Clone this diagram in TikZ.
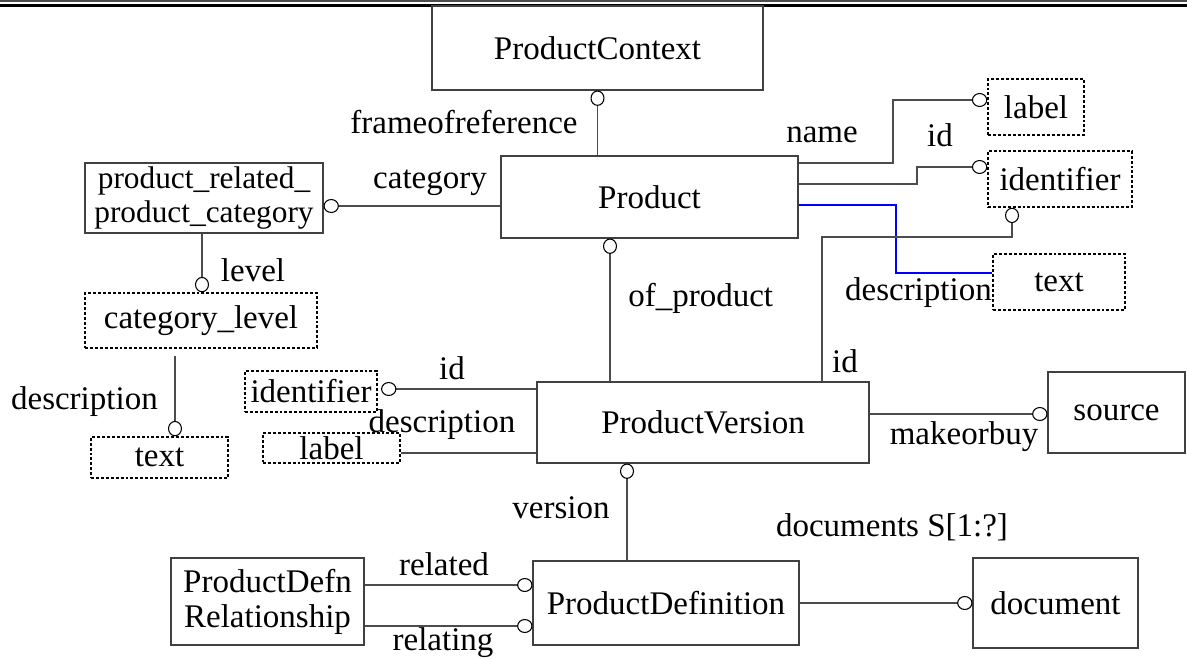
\documentclass[tikz,border=0pt]{standalone}
\usepackage{fontspec}
\setmainfont{Liberation Serif}
\usetikzlibrary{arrows.meta}
\newcommand\bx[7]{\node[#6,minimum width={(#4-#2)*0.75pt},minimum height={(#5-#3)*0.75pt}] (#1) at ({(#2+#4)/2},{(#3+#5)/2}) {#7};}
\tikzset{
  every node/.style={font=\fontsize{24.75pt}{26pt}\selectfont, inner sep=0pt},
  solidbox/.style={draw=black!75, line width=0.8pt},
  dashbox/.style={draw=black, line width=1.1pt, dash pattern=on 2.2pt off 1.5pt},
  conn/.style={draw=black!70, line width=0.8pt},
  blueconn/.style={draw=blue, line width=1.1pt},
  endc/.style={-{Circle[open,length=11.5pt,width=10.5pt,black]}},
  startc/.style={{Circle[open,length=11.5pt,width=10.5pt,black]}-},
  lbl/.style={}
}
\begin{document}
\begin{tikzpicture}[x=0.75pt,y=-0.75pt]
\useasboundingbox (0,0) rectangle (1187,659);
% top rules
\draw[black!70, line width=0.9pt] (0,1) -- (1187,1);
\draw[black, line width=2pt] (0,5.5) -- (1187,5.5);
% boxes
\bx{pc}{432}{6}{763}{90}{solidbox}{ProductContext}
\bx{prod}{501}{156}{798}{238}{solidbox}{Product}
\bx{lblR}{988}{79}{1084}{135}{dashbox}{label}
\bx{idR}{988}{151}{1132}{207}{dashbox}{identifier}
\bx{txtR}{993}{254}{1125}{310}{dashbox}{text}
\bx{prpc}{85}{163}{323}{233}{solidbox,align=center,font=\fontsize{23.5pt}{25.5pt}\selectfont}{product\_related\_\\product\_category}
\bx{cl}{85}{293}{317}{348}{dashbox}{category\_level}
\bx{txtL}{91}{437}{228}{478}{dashbox}{text}
\bx{idL}{245}{371}{377}{412}{dashbox}{identifier}
\bx{lblL}{263}{433}{400}{463}{dashbox}{label}
\bx{pv}{537}{382}{869}{463}{solidbox}{ProductVersion}
\bx{src}{1048}{372}{1185}{453}{solidbox}{source}
\bx{pd}{533}{561}{799}{645}{solidbox}{ProductDefinition}
\bx{doc}{973}{558}{1138}{648}{solidbox}{document}
\bx{pdr}{171}{558}{364}{645}{solidbox,align=center,font=\fontsize{24.75pt}{26.25pt}\selectfont}{ProductDefn\\Relationship}
% labels
\node[lbl] (tFrame) at (464,122) {frameofreference};
\node[lbl] (tCat) at (430,183) {category};
\node[lbl] (tName) at (822,135) {name};
\node[lbl] (tIdR) at (940,135) {id};
\node[lbl,anchor=east] (tDescR) at (992,293) {description};
\node[lbl,anchor=west] (tOf) at (628,298) {of\_product};
\node[lbl] (tLevel) at (253,270) {level};
\node[lbl,anchor=east] (tDescL) at (158,402) {description};
\node[lbl] (tIdL) at (452,368) {id};
\node[lbl] (tDescM) at (442,425) {description};
\node[lbl] (tIdPV) at (845,361) {id};
\node[lbl] (tMake) at (964,437) {makeorbuy};
\node[lbl] (tVer) at (561,508) {version};
\node[lbl] (tDocs) at (892,527) {documents S[1:?]};
\node[lbl] (tRelated) at (444,564) {related};
\node[lbl] (tRelating) at (443,643) {relating};
% connectors
\draw[conn,startc] (pc.south) -- (pc.south |- prod.north);
\draw[conn,endc] (prod.east |- 0,163) -- (893,163) |- (lblR.west |- 0,100);
\draw[conn,endc] (prod.east |- 0,184) -- (917,184) |- (idR.west |- 0,167);
\draw[blueconn] (prod.east |- 0,205) -- (896,205) |- (txtR.west |- 0,273);
\draw[conn,startc] (idR.south -| 1012,0) |- (822,237) -- (pv.north -| 822,0);
\draw[conn,startc] (prod.south -| 610,0) -- (pv.north -| 610,0);
\draw[conn,endc] (prod.west |- 0,206) -- (prpc.east |- 0,206);
\draw[conn,endc] (prpc.south -| 202,0) -- (cl.north -| 202,0);
\draw[conn,endc,shorten <=5.25pt] (cl.south -| 175,0) -- (txtL.north -| 175,0);
\draw[conn,startc,shorten <=2.5pt] (idL.east |- 0,389) -- (pv.west |- 0,389);
\draw[conn] (lblL.east |- 0,453) -- (pv.west |- 0,453);
\draw[conn,endc] (pv.east |- 0,414) -- (src.west |- 0,414);
\draw[conn,startc] (pv.south -| 627,0) -- (pd.north -| 627,0);
\draw[conn,endc] (pdr.east |- 0,585) -- (pd.west |- 0,585);
\draw[conn,endc] (pdr.east |- 0,626) -- (pd.west |- 0,626);
\draw[conn,endc] (pd.east) -- (doc.west |- pd.east);
\end{tikzpicture}
\end{document}
